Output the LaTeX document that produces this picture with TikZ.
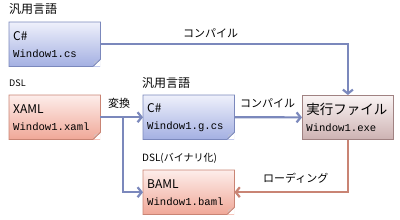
\documentclass[tikz,border=0pt]{standalone}
\usepackage{fontspec}
\setmainfont{Noto Sans CJK JP}
\newfontfamily\codefont{Liberation Mono}
\usetikzlibrary{arrows.meta,positioning}
\definecolor{blueline}{HTML}{7B88BC}
\definecolor{bluetop}{HTML}{EEF0FB}
\definecolor{bluebot}{HTML}{A4B0E2}
\definecolor{redline}{HTML}{C98474}
\definecolor{redtop}{HTML}{FDEDEA}
\definecolor{redbot}{HTML}{F0A898}
\definecolor{exeline}{HTML}{A08282}
\definecolor{exetop}{HTML}{FAF4F4}
\definecolor{exebot}{HTML}{CDB2B2}
\tikzset{
  box/.style={anchor=north west, minimum width=91pt, minimum height=44pt,
    text width=83pt, align=left, inner sep=4pt, font=\fontsize{12}{17}\selectfont},
  bluebox/.style={box, top color=bluetop, bottom color=bluebot},
  redbox/.style={box, top color=redtop, bottom color=redbot},
  exebox/.style={box, minimum width=90pt, draw=exeline, line width=0.8pt,
    top color=exetop, bottom color=exebot, font=\fontsize{13.5}{17}\selectfont},
  lbl/.style={anchor=west, inner sep=0pt, font=\fontsize{11}{11}\selectfont},
  flow/.style={line width=2.2pt, draw=blueline, -{Straight Barb[length=4pt,width=10pt]}},
  loadflow/.style={flow, draw=redline}
}
\newcommand{\code}[1]{{\codefont\fontsize{10.6}{12}\selectfont #1}}
\begin{document}
\begin{tikzpicture}[x=1pt,y=-1pt]
  \useasboundingbox (0,0) rectangle (400,220);
  % labels
  \node[lbl, font=\fontsize{12}{12}\selectfont] (lgen1) at (9,9) {汎用言語};
  \node[lbl, font=\fontsize{9}{9}\selectfont] (ldsl1) at (9,83) {DSL};
  \node[lbl, font=\fontsize{12}{12}\selectfont] (lgen2) at (142,83) {汎用言語};
  \node[lbl, font=\fontsize{10}{10}\selectfont] (ldsl2) at (142,158) {DSL(バイナリ化)};
  % boxes
  \node[bluebox] (cs) at (9,22) {C\#\\\code{Window1.cs}};
  \node[redbox] (xaml) at (9,95) {XAML\\\code{Window1.xaml}};
  \node[bluebox] (gcs) at (143,95) {C\#\\\code{Window1.g.cs}};
  \node[redbox] (baml) at (143,170) {BAML\\\code{Window1.baml}};
  \node[exebox] (exe) at (302,95) {実行ファイル\\\code{Window1.exe}};
  \foreach \n/\c in {cs/blueline,xaml/redline,gcs/blueline,baml/redline}{
    \fill[white] (\n.south east) -- ++(-7,0) -- ++(7,-7) -- cycle;
    \fill[\c!55] (\n.south east) ++(-7,0) -- ++(7,-7) -- ++(-6,2) -- cycle;
    \draw[\c, line width=0.8pt] (\n.south east) ++(0,-7) -- (\n.north east)
      -- (\n.north west) -- (\n.south west) -- ++(84,0) -- cycle;
  }
  % connectors
  \coordinate (split) at (123,117);
  \draw[flow] (cs.east) -| (exe.north);
  \draw[flow] (xaml.east) -- (gcs.west);
  \draw[flow] (split) |- (baml.west);
  \draw[flow] (gcs.east) -- (exe.west);
  \draw[loadflow] (exe.south) |- (baml.east);
  \node[lbl] (tcomp1) at (183,33) {コンパイル};
  \node[lbl] (tconv) at (108,103) {変換};
  \node[lbl] (tcomp2) at (240,103) {コンパイル};
  \node[lbl] (tload) at (263,178) {ローディング};
\end{tikzpicture}
\end{document}
